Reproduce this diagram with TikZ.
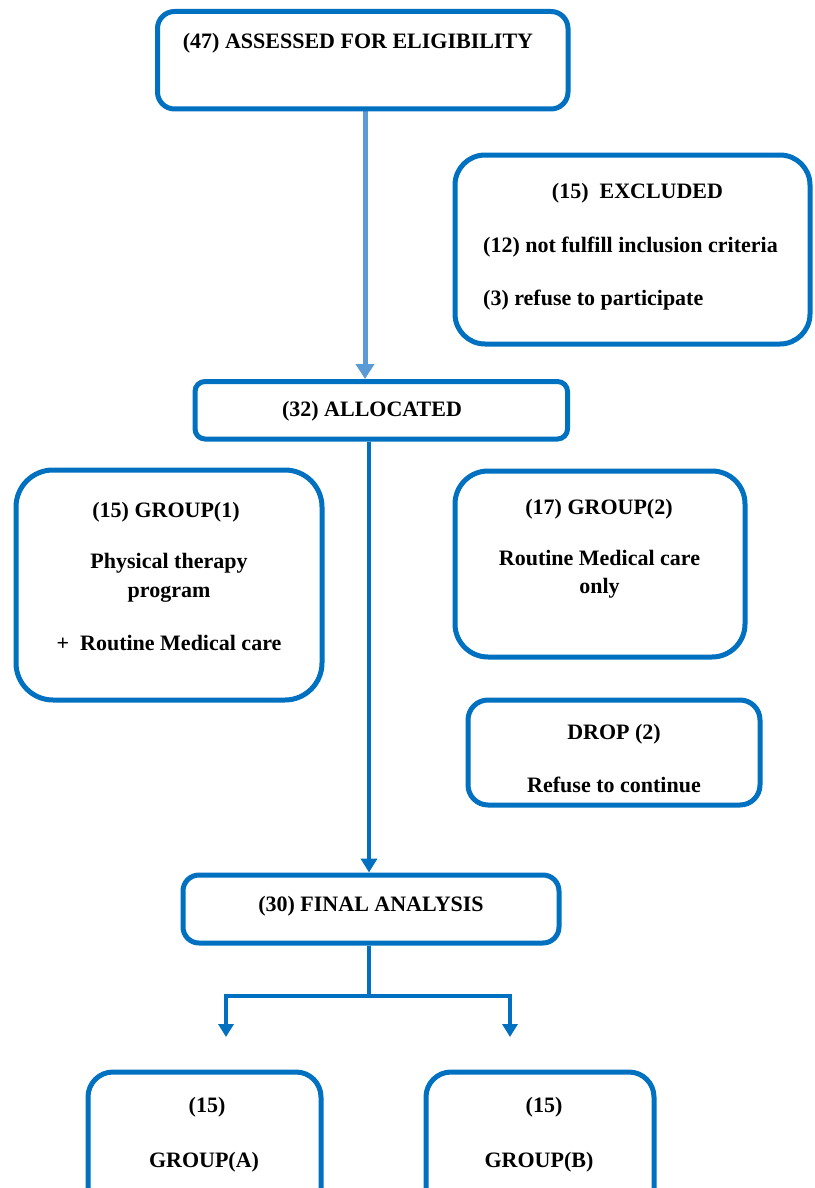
\documentclass[tikz,border=0pt]{standalone}
\usepackage{fontspec}
\setmainfont{Liberation Serif}
\usetikzlibrary{arrows.meta}
\definecolor{dblue}{HTML}{0070C0}
\definecolor{lblue}{HTML}{5B9BD5}
\pgfdeclarelayer{background}
\pgfsetlayers{background,main}
\begin{document}
\begin{tikzpicture}[x=1pt,y=-1pt,
  box/.style={draw=dblue, line width=5pt, inner sep=0pt, fill=white},
  txt/.style={anchor=base, inner sep=0pt, font=\fontsize{22}{26}\selectfont\bfseries},
  conn/.style={draw=dblue, line width=4pt, line join=miter},
  lightarr/.style={draw=lblue, line width=5pt, -{Triangle[length=15pt,width=18pt]}},
  darkarr/.style={conn, -{Triangle[length=14pt,width=16pt]}},
  smallarr/.style={conn, -{Triangle[length=13pt,width=15pt]}},
  ]
\useasboundingbox (0,0) rectangle (814,1188);
\clip (0,0) rectangle (814,1188);

% boxes
\node[box, rounded corners=17pt, minimum width=410.5pt, minimum height=97.5pt] (top) at (362.75,60.25) {};
\node[box, rounded corners=30pt, minimum width=355pt, minimum height=189pt] (excl) at (632.5,249.5) {};
\node[box, rounded corners=10pt, minimum width=372.5pt, minimum height=57.5pt] (alloc) at (381.25,410.25) {};
\node[box, rounded corners=37pt, minimum width=306pt, minimum height=230pt] (g1) at (169,585) {};
\node[box, rounded corners=33pt, minimum width=290pt, minimum height=186pt] (g2) at (600,564) {};
\node[box, rounded corners=20pt, minimum width=292pt, minimum height=105pt] (drop) at (614,752.5) {};
\node[box, rounded corners=16pt, minimum width=376pt, minimum height=68pt] (final) at (371,909) {};
\node[box, rounded corners=25pt, minimum width=233pt, minimum height=148pt] (ga) at (204.5,1146) {};
\node[box, rounded corners=25pt, minimum width=228pt, minimum height=148pt] (gb) at (540,1146) {};

% texts
\node[txt] (t1) at (358,49) {(47) ASSESSED FOR ELIGIBILITY};
\node[txt] (ex1) at (637.5,198) {(15)\ \ EXCLUDED};
\node[txt, anchor=base west] (ex2) at (483,252) {(12) not fulfill inclusion criteria};
\node[txt, anchor=base west] (ex3) at (483,305) {(3) refuse to participate};
\node[txt] (al) at (372,416) {(32) ALLOCATED};
\node[txt] (g1a) at (166,517) {(15) GROUP(1)};
\node[txt] (g1b) at (169,568) {Physical therapy};
\node[txt] (g1c) at (169,597) {program};
\node[txt] (g1d) at (169,650) {+\ \ Routine Medical care};
\node[txt] (g2a) at (599,514) {(17) GROUP(2)};
\node[txt] (g2b) at (599.5,565) {Routine Medical care};
\node[txt] (g2c) at (599.5,593) {only};
\node[txt] (dr1) at (614,739) {DROP (2)};
\node[txt] (dr2) at (614,792) {Refuse to continue};
\node[txt] (fa) at (371,911) {(30) FINAL ANALYSIS};
\node[txt] (ga1) at (207,1112) {(15)};
\node[txt] (ga2) at (204,1167) {GROUP(A)};
\node[txt] (gb1) at (544,1112) {(15)};
\node[txt] (gb2) at (539,1167) {GROUP(B)};

% connectors
\coordinate (xa) at (365,0);
\coordinate (xb) at (369,0);
\coordinate (jn) at (369,996);
\coordinate (ea) at (226,1037);
\coordinate (eb) at (510,1037);
\begin{pgfonlayer}{background}
\draw[lightarr] (top.south -| xa) -- (alloc.north -| xa);
\draw[darkarr] (alloc.south -| xb) -- (final.north -| xb);
\draw[conn] (final.south -| xb) -- (jn);
\draw[smallarr] (jn) -| (ea);
\draw[smallarr] (jn) -| (eb);
\end{pgfonlayer}
\end{tikzpicture}
\end{document}
